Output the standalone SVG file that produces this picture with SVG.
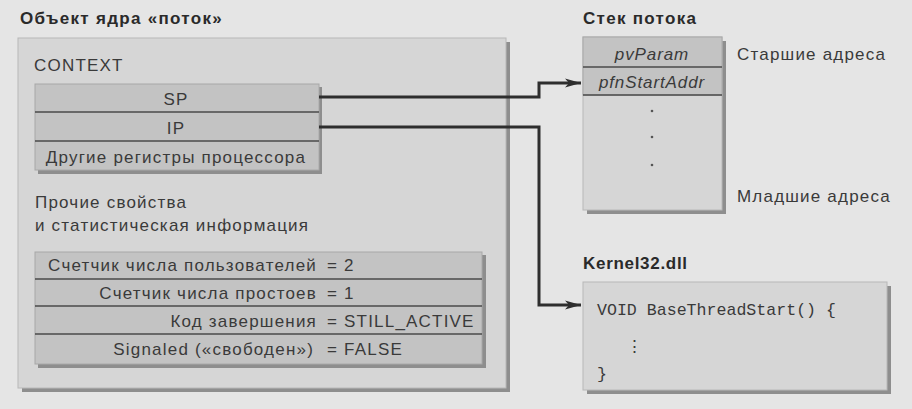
<svg xmlns="http://www.w3.org/2000/svg" width="912" height="409" viewBox="0 0 912 409">
<defs>
<style>
.t{font-family:"Liberation Sans",Arial,sans-serif;font-size:17px;letter-spacing:1.2px;fill:#3a3a3a}
.b{font-family:"Liberation Sans",Arial,sans-serif;font-size:17px;font-weight:bold;letter-spacing:1.3px;fill:#2a2a2a}
.i{font-family:"Liberation Sans",Arial,sans-serif;font-size:17px;font-style:italic;letter-spacing:0.9px;fill:#3a3a3a}
.m{font-family:"Liberation Mono","DejaVu Sans Mono",monospace;font-size:16.6px;fill:#3a3a3a}
.box{fill:#d6d6d6;stroke:#b8b8b8;stroke-width:1}
.tbl{fill:#c3c3c3;stroke:#a8a8a8;stroke-width:1}
.sep{stroke:#4a4a4a;stroke-width:1.3}
.sh{fill:#8e8e8e}
.conn{fill:none;stroke:#2e2e2e;stroke-width:3}
</style>
<marker id="arr" markerUnits="userSpaceOnUse" markerWidth="18" markerHeight="12" refX="16" refY="6" orient="auto">
<path d="M0,1.5 L16,6 L0,10.5 L4,6 Z" fill="#2e2e2e"/>
</marker>
</defs>
<rect width="912" height="409" fill="#e5e5e5"/>

<g id="thread-object">
<text class="b" x="20" y="24">Объект ядра «поток»</text>
<rect class="sh" x="22" y="42" width="488" height="350"/>
<rect class="box" x="18" y="38" width="488" height="350"/>
<text class="t" x="34" y="71">CONTEXT</text>
</g>

<g id="context-registers">
<rect class="sh" x="38" y="87" width="284" height="87"/>
<rect class="tbl" x="35" y="84" width="284" height="86"/>
<line class="sep" x1="35" y1="112" x2="319" y2="112"/>
<line class="sep" x1="35" y1="141" x2="319" y2="141"/>
<text class="t" x="176" y="105" text-anchor="middle">SP</text>
<text class="t" x="176" y="134" text-anchor="middle">IP</text>
<text class="t" x="176" y="163" text-anchor="middle">Другие регистры процессора</text>
</g>

<g id="other-props">
<text class="t" x="35" y="208">Прочие свойства</text>
<text class="t" x="35" y="231">и статистическая информация</text>
<rect class="sh" x="38" y="255" width="448" height="113"/>
<rect class="tbl" x="35" y="252" width="447" height="112"/>
<line class="sep" x1="35" y1="279" x2="482" y2="279"/>
<line class="sep" x1="35" y1="306" x2="482" y2="306"/>
<line class="sep" x1="35" y1="334" x2="482" y2="334"/>
<text class="t" x="317" y="271" text-anchor="end">Счетчик числа пользователей</text>
<text class="t" x="327" y="271">= 2</text>
<text class="t" x="317" y="299" text-anchor="end">Счетчик числа простоев</text>
<text class="t" x="327" y="299">= 1</text>
<text class="t" x="317" y="327" text-anchor="end">Код завершения</text>
<text class="t" x="327" y="327">= STILL_ACTIVE</text>
<text class="t" x="314" y="355" text-anchor="end">Signaled («свободен»)</text>
<text class="t" x="327" y="355">= FALSE</text>
</g>

<g id="thread-stack">
<text class="b" x="583" y="24">Стек потока</text>
<rect class="sh" x="587" y="41" width="139" height="173"/>
<rect class="box" x="583" y="37" width="139" height="173"/>
<rect class="tbl" x="583" y="37" width="139" height="58"/>
<line class="sep" x1="583" y1="67" x2="722" y2="67"/>
<line class="sep" x1="583" y1="95" x2="722" y2="95"/>
<text class="i" x="652" y="60" text-anchor="middle">pvParam</text>
<text class="i" x="652" y="88" text-anchor="middle">pfnStartAddr</text>
<circle cx="652" cy="111" r="1.3" fill="#555"/>
<circle cx="652" cy="137" r="1.3" fill="#555"/>
<circle cx="652" cy="165" r="1.3" fill="#555"/>
<text class="t" x="737" y="60">Старшие адреса</text>
<text class="t" x="737" y="202">Младшие адреса</text>
</g>

<g id="kernel32">
<text class="b" x="583" y="269" style="letter-spacing:0.7px">Kernel32.dll</text>
<rect class="sh" x="587" y="286" width="304" height="108"/>
<rect class="box" x="583" y="282" width="304" height="108"/>
<text class="m" x="597" y="315">VOID BaseThreadStart() {</text>
<text class="m" x="626" y="352">⋮</text>
<text class="m" x="597" y="379">}</text>
</g>

<g id="connectors">
<path class="conn" d="M319,97 H539 V83 H581" marker-end="url(#arr)"/>
<path class="conn" d="M319,127 H539 V305 H581" marker-end="url(#arr)"/>
</g>
</svg>
